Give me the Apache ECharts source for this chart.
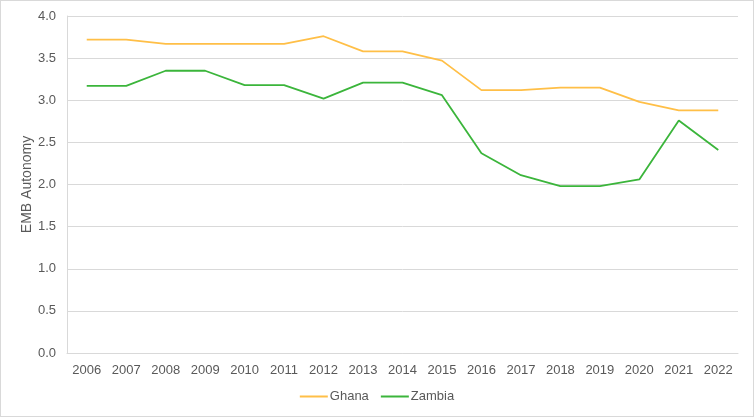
<!DOCTYPE html>
<html>
<head>
<meta charset="utf-8">
<script src="https://cdn.jsdelivr.net/npm/echarts@6/dist/echarts.min.js"></script>
<style>
  html, body { margin: 0; padding: 0; background: #fff; }
  #chart { width: 754px; height: 417px; box-sizing: border-box; border: 1px solid #d9d9d9; }
</style>
</head>
<body>
<div id="chart"></div>
<script>
const years = ['2006', '2007', '2008', '2009', '2010', '2011', '2012', '2013', '2014',
  '2015', '2016', '2017', '2018', '2019', '2020', '2021', '2022'];
const ghana = [3.72, 3.72, 3.67, 3.67, 3.67, 3.67, 3.76, 3.58, 3.58,
  3.47, 3.12, 3.12, 3.15, 3.15, 2.98, 2.88, 2.88];
const zambia = [3.17, 3.17, 3.35, 3.35, 3.18, 3.18, 3.02, 3.21, 3.21,
  3.06, 2.37, 2.11, 1.98, 1.98, 2.06, 2.76, 2.41];

const font = 'Liberation Sans, Arial, sans-serif';
const textColor = '#595959';

const myChart = echarts.init(document.getElementById('chart'));
let option = {
  animation: false,
  grid: { left: 66, right: 15, top: 15, bottom: 63, containLabel: false },
  legend: {
    bottom: 8,
    left: 'center',
    itemWidth: 28,
    itemHeight: 2,
    itemGap: 12,
    icon: 'rect',
    textStyle: { color: textColor, fontSize: 13, fontFamily: font, padding: [0, 0, 0, -3] },
    data: ['Ghana', 'Zambia']
  },
  xAxis: {
    type: 'category',
    data: years,
    boundaryGap: true,
    axisLine: { lineStyle: { color: '#d9d9d9' } },
    axisTick: { show: false },
    axisLabel: { color: textColor, fontSize: 13, fontFamily: font, margin: 11 }
  },
  yAxis: {
    type: 'value',
    min: 0,
    max: 4,
    interval: 0.5,
    name: 'EMB Autonomy',
    nameLocation: 'middle',
    nameGap: 33,
    nameMoveOverlap: false,
    nameTextStyle: { color: textColor, fontSize: 14, fontFamily: font },
    axisLine: { show: true, lineStyle: { color: '#d9d9d9' } },
    axisTick: { show: false },
    axisLabel: {
      color: textColor, fontSize: 13, fontFamily: font, margin: 11,
      formatter: v => v.toFixed(1)
    },
    splitLine: { lineStyle: { color: '#d9d9d9' } }
  },
  series: [
    {
      name: 'Ghana', type: 'line', data: ghana,
      symbol: 'none', lineStyle: { color: '#FFBF47', width: 1.8 },
      itemStyle: { color: '#FFBF47' }
    },
    {
      name: 'Zambia', type: 'line', data: zambia,
      symbol: 'none', lineStyle: { color: '#3BB53B', width: 1.8 },
      itemStyle: { color: '#3BB53B' }
    }
  ]
};
option && myChart.setOption(option);
</script>
</body>
</html>
